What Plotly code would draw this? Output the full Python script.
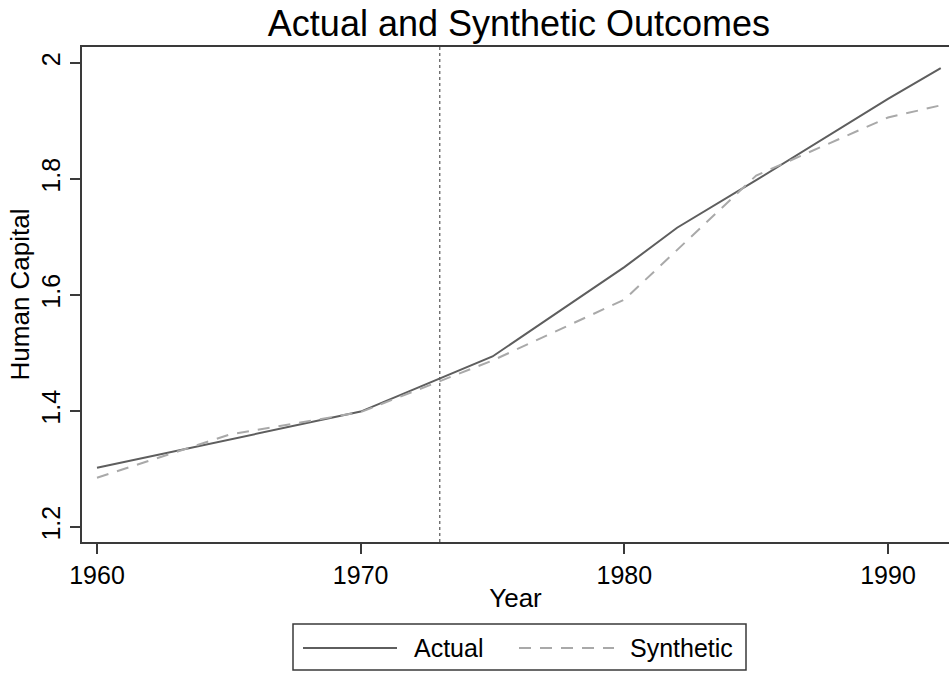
import plotly.graph_objects as go

# ---- data ----
years_actual = [1960, 1965, 1970, 1975, 1980, 1982, 1985, 1990, 1992]
actual = [1.302, 1.350, 1.399, 1.494, 1.648, 1.716, 1.798, 1.938, 1.991]

years_synth = [1960, 1965, 1970, 1975, 1980, 1985, 1987, 1990, 1992]
synthetic = [1.285, 1.359, 1.398, 1.487, 1.592, 1.806, 1.846, 1.906, 1.927]

treatment_year = 1973
x_ticks = [1960, 1970, 1980, 1990]
y_ticks = [1.2, 1.4, 1.6, 1.8, 2.0]
y_tick_labels = ["1.2", "1.4", "1.6", "1.8", "2"]
series_names = ["Actual", "Synthetic"]

# ---- styles ----
W, H = 949, 673
ML, MR, MT, MB = 82, 0, 47, 131
FONT = "Liberation Sans, Arial, sans-serif"
C_ACT = "#5e5e5e"
C_SYN = "#a9a9a9"
DASH = "12px,9px"
AXC = "#3a3a3a"

fig = go.Figure()
fig.add_trace(go.Scatter(x=years_actual, y=actual, mode="lines", name=series_names[0],
                         line=dict(color=C_ACT, width=2), showlegend=False))
fig.add_trace(go.Scatter(x=years_synth, y=synthetic, mode="lines", name=series_names[1],
                         line=dict(color=C_SYN, width=2, dash=DASH), showlegend=False))

# treatment line
fig.add_shape(type="line", xref="x", yref="paper", x0=treatment_year, x1=treatment_year,
              y0=0, y1=1, line=dict(color="#555555", width=1.2, dash="dot"), layer="below")

# ---- custom legend (below plot) ----
pw = W - ML - MR
ph = H - MT - MB
def px(x):
    return (x - ML) / pw
def py(y):
    return (H - MB - y) / ph

fig.add_shape(type="rect", xref="paper", yref="paper",
              x0=px(293), x1=px(746), y0=py(624), y1=py(670),
              line=dict(color="#3a3a3a", width=1.5), fillcolor="white")
ly = py(648)
fig.add_shape(type="line", xref="paper", yref="paper", x0=px(303), x1=px(397), y0=ly, y1=ly,
              line=dict(color=C_ACT, width=2))
fig.add_shape(type="line", xref="paper", yref="paper", x0=px(519), x1=px(614), y0=ly, y1=ly,
              line=dict(color=C_SYN, width=2, dash=DASH))
fig.add_annotation(text=series_names[0], xref="paper", yref="paper", x=px(412), y=ly,
                   xanchor="left", yanchor="middle", showarrow=False,
                   font=dict(family=FONT, size=25, color="black"))
fig.add_annotation(text=series_names[1], xref="paper", yref="paper", x=px(628), y=ly,
                   xanchor="left", yanchor="middle", showarrow=False,
                   font=dict(family=FONT, size=25, color="black"))

fig.update_layout(
    width=W, height=H,
    margin=dict(l=ML, r=MR, t=MT, b=MB, pad=0),
    paper_bgcolor="white", plot_bgcolor="white",
    font=dict(family=FONT, size=25, color="black"),
    title=dict(text="Actual and Synthetic Outcomes", x=519 / W, xanchor="center",
               y=1 - 23 / H, yanchor="middle", yref="container",
               font=dict(family=FONT, size=36, color="black")),
    showlegend=False,
)
fig.update_xaxes(
    range=[1959.431, 1992.313], tickvals=x_ticks, ticktext=[str(t) for t in x_ticks],
    showgrid=False, zeroline=False, showline=True, linecolor=AXC, linewidth=2, mirror=True,
    ticks="outside", ticklen=10, tickwidth=1.5, tickcolor=AXC,
    tickfont=dict(family=FONT, size=25, color="black"),
    title=dict(text="Year", standoff=1, font=dict(family=FONT, size=26, color="black")),
)
fig.update_yaxes(
    range=[1.1741, 2.0276], tickvals=y_ticks, ticktext=y_tick_labels, tickangle=-90,
    showgrid=False, zeroline=False, showline=True, linecolor=AXC, linewidth=2, mirror=False,
    ticks="outside", ticklen=10, tickwidth=1.5, tickcolor=AXC,
    tickfont=dict(family=FONT, size=25, color="black"),
    title=dict(text="Human Capital", standoff=0, font=dict(family=FONT, size=26, color="black")),
)

fig.write_html("out.html")
